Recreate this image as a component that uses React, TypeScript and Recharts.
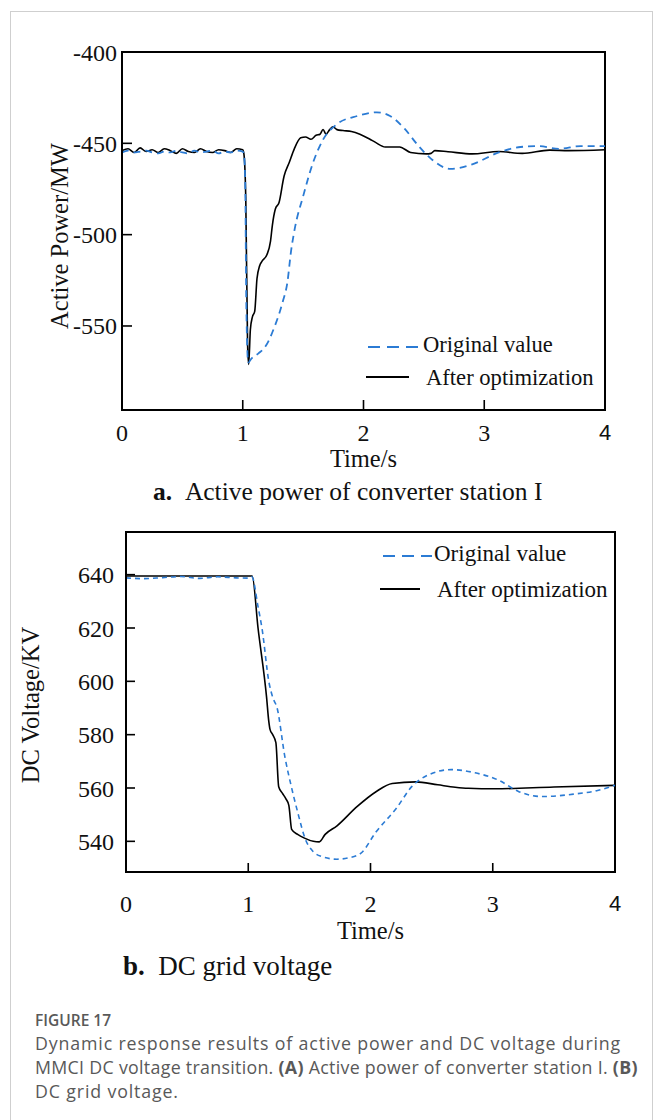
import React from 'react';
import { LineChart, Line, XAxis, YAxis, ReferenceArea, Legend, Label, Text } from 'recharts';

// ---------- Data: (a) Active power of converter station I ----------
const powerTimeOriginal = [0, 0.05, 0.1, 0.15, 0.2, 0.25, 0.3, 0.35, 0.4, 0.45, 0.5, 0.55, 0.6, 0.65, 0.7, 0.75, 0.8, 0.85, 0.9, 0.95, 1.0,
  1.01, 1.02, 1.03, 1.045, 1.07, 1.13, 1.19, 1.26, 1.33, 1.37, 1.40, 1.43, 1.50, 1.58, 1.665, 1.78, 1.95, 2.11, 2.22, 2.34, 2.45, 2.56, 2.72, 2.9, 3.12, 3.3, 3.45, 3.62, 3.8, 4.0];
const powerOriginal = [-455, -454, -455, -454.5, -454, -455, -455.5, -454.5, -455, -454, -455, -455.5, -454, -455, -454.5, -454, -455.5, -454.5, -455, -454, -454.5,
  -456, -470, -540, -570, -568, -565, -561, -551, -537, -526, -509, -497, -479, -461, -448, -439.5, -435, -433, -435, -442, -451, -458.5, -464, -461.5, -455, -452, -451.5, -453, -451.5, -451.5];

const powerTimeOptimized = [0, 0.05, 0.1, 0.15, 0.2, 0.25, 0.3, 0.35, 0.4, 0.45, 0.5, 0.55, 0.6, 0.65, 0.7, 0.75, 0.8, 0.85, 0.9, 0.95, 1.0,
  1.01, 1.025, 1.04, 1.049, 1.063, 1.08, 1.099, 1.118, 1.14, 1.16, 1.2, 1.23, 1.245, 1.27, 1.3, 1.342, 1.385, 1.427, 1.48, 1.52,
  1.565, 1.607, 1.64, 1.665, 1.69, 1.72, 1.748, 1.78, 1.83, 1.9, 1.97, 2.05, 2.1, 2.18, 2.3, 2.39, 2.52, 2.56, 2.59, 2.7, 2.9, 3.12, 3.315, 3.54, 3.7, 4.0];
const powerOptimized = [-454, -453, -455, -452.5, -454.5, -453.5, -455, -453, -454, -455.5, -453, -454.5, -455, -453, -454.5, -455, -453.5, -454, -455, -453, -453.5,
  -456, -480, -560, -571, -552, -545, -542, -524, -517, -514.5, -511, -503.5, -495, -486, -482.5, -468, -460.5, -453, -447, -446.5,
  -447.8, -445.6, -445, -442.4, -445, -442.5, -441, -442.5, -443, -443.5, -445, -447.6, -449.5, -452, -452, -455, -455.8, -455.5, -454, -454.6, -455.8, -454.5, -455.5, -453.7, -454, -453.5];

// ---------- Data: (b) DC grid voltage ----------
const voltageTimeOriginal = [0, 0.15, 0.3, 0.45, 0.6, 0.75, 0.9, 1.0, 1.03, 1.08, 1.112, 1.17, 1.2, 1.236, 1.3, 1.35, 1.404, 1.468,
  1.532, 1.6, 1.726, 1.82, 1.92, 2.048, 2.21, 2.339, 2.468, 2.661, 2.855, 3.049, 3.21, 3.403, 3.661, 3.85, 4.0];
const voltageOriginal = [638.8, 638.5, 638.9, 639.3, 638.6, 639.2, 638.8, 638.7, 639.2, 628, 620, 599.5, 594, 590, 571.6, 561, 551, 540.7,
  536.1, 534.3, 533.3, 533.8, 535.5, 543.7, 552.3, 560.6, 564.8, 566.9, 565.7, 562.9, 558.7, 556.8, 557.7, 559, 561];

const voltageTimeOptimized = [0, 0.5, 1.0, 1.032, 1.08, 1.15, 1.168, 1.178, 1.2, 1.226, 1.249, 1.28, 1.307, 1.332, 1.355,
  1.404, 1.46, 1.532, 1.581, 1.629, 1.726, 1.887, 2.048, 2.177, 2.371, 2.55, 2.693, 2.8, 3.016, 3.5, 4.0];
const voltageOptimized = [639.5, 639.5, 639.5, 639.5, 620, 594, 585, 582, 580, 577, 560.5, 558, 556, 553.5, 544.5,
  542.6, 541.2, 540, 539.8, 542.6, 545.8, 552.9, 558.7, 561.7, 562.3, 561.2, 560.3, 559.9, 559.7, 560.4, 561];

// ---------- Axes ----------
const timeTicks = [0, 1, 2, 3, 4];
const timeDomain = [0, 4];
const powerTicks = [-550, -500, -450, -400];
const powerDomain = [-596, -400];
const voltageTicks = [540, 560, 580, 600, 620, 640];
const voltageDomain = [528.5, 656];

const seriesNames = ['Original value', 'After optimization'];

const zip = (ts: number[], vs: number[]) => ts.map((t, i) => ({ t, v: vs[i] }));

const SERIF = "'Liberation Serif', 'Times New Roman', Times, serif";
const SANS = "'Open Sans', 'Noto Sans', sans-serif";
const BLUE = '#2b7bd4';
const INK = '#111';

const tickStyle = { fontFamily: SERIF, fontSize: 24, fill: INK };
const titleStyle = { fontFamily: SERIF, fontSize: 24.5, fill: INK };

// x tick: the last label ("4") is set in a sans face in the reference
const TimeTick = (props: any) => {
  const { x, y, payload, textAnchor, verticalAnchor } = props;
  const last = payload && payload.value === timeTicks[timeTicks.length - 1];
  const style = last ? { fontFamily: "'Liberation Sans', Arial, sans-serif", fontSize: 22, fill: INK } : tickStyle;
  return (
    <Text x={x} y={y} textAnchor={textAnchor} verticalAnchor={verticalAnchor} style={style}>
      {String(payload.value)}
    </Text>
  );
};

const yTitle = (text: string, dx: number, dy: number) => (props: any) => {
  const vb = props.viewBox || { x: 0, y: 0, width: 0, height: 0 };
  const x = vb.x + dx;
  const y = vb.y + vb.height / 2 + dy;
  return (
    <text x={x} y={y} transform={`rotate(-90, ${x}, ${y})`} textAnchor="middle" dominantBaseline="central" style={titleStyle}>
      {text}
    </text>
  );
};

type LegendGeom = { dash: [number, number, number]; solid: [number, number, number]; dashText: number; solidText: number; size: number };

const makeLegend = (g: LegendGeom) => (props: any) => {
  const payload = props.payload || [];
  const find = (name: string) => payload.find((p: any) => p.value === name);
  const orig = find(seriesNames[0]);
  const opt = find(seriesNames[1]);
  const ts = { fontFamily: SERIF, fontSize: g.size, fill: INK };
  return (
    <svg width={280} height={70} style={{ overflow: 'visible' }}>
      <line x1={g.dash[0]} x2={g.dash[1]} y1={g.dash[2]} y2={g.dash[2]} stroke={orig ? orig.color : BLUE} strokeWidth={2} strokeDasharray="12 7" />
      <text x={g.dashText} y={g.dash[2] - 3} dominantBaseline="central" style={ts}>{seriesNames[0]}</text>
      <line x1={g.solid[0]} x2={g.solid[1]} y1={g.solid[2]} y2={g.solid[2]} stroke={opt ? opt.color : '#000'} strokeWidth={2} />
      <text x={g.solidText} y={g.solid[2]} dominantBaseline="central" style={ts}>{seriesNames[1]}</text>
    </svg>
  );
};

const legendTop = makeLegend({ dash: [8, 58, 17], dashText: 63, solid: [6, 49, 47], solidText: 66, size: 22.6 });
const legendBottom = makeLegend({ dash: [8, 57, 20], dashText: 59, solid: [5, 45, 53], solidText: 62, size: 23 });

function PowerChart() {
  const orig = zip(powerTimeOriginal, powerOriginal);
  const opt = zip(powerTimeOptimized, powerOptimized);
  return (
    <LineChart width={654} height={475} margin={{ top: 52, right: 49, bottom: 4, left: 2 }}>
      <ReferenceArea x1={timeDomain[0]} x2={timeDomain[1]} y1={powerDomain[0]} y2={powerDomain[1]} fill="none" stroke="#000" strokeWidth={2} ifOverflow="visible" />
      <XAxis type="number" dataKey="t" domain={timeDomain} ticks={timeTicks} allowDataOverflow height={61}
        tickSize={-10} tickMargin={24} tick={<TimeTick />} tickLine={{ stroke: '#000', strokeWidth: 1.6 }} axisLine={{ stroke: '#000', strokeWidth: 2 }} interval={0}>
        <Label value="Time/s" position="insideBottom" offset={4} style={titleStyle} />
      </XAxis>
      <YAxis type="number" domain={powerDomain} ticks={powerTicks} allowDataOverflow width={120}
        tickSize={-10} tickMargin={15} tick={tickStyle} tickLine={{ stroke: '#000', strokeWidth: 1.6 }} axisLine={{ stroke: '#000', strokeWidth: 2 }} interval={0}>
        <Label content={yTitle('Active Power/MW', 57, 5)} />
      </YAxis>
      <Legend layout="vertical" align="center" verticalAlign="middle" content={legendTop}
        wrapperStyle={{ position: 'absolute', left: 360, top: 330, width: 280, height: 70 }} />
      <Line data={opt} dataKey="v" name={seriesNames[1]} type="monotone" stroke="#000" strokeWidth={1.6} dot={false} isAnimationActive={false} />
      <Line data={orig} dataKey="v" name={seriesNames[0]} type="monotone" stroke={BLUE} strokeWidth={1.8} strokeDasharray="7 5" dot={false} isAnimationActive={false} />
    </LineChart>
  );
}

function VoltageChart() {
  const orig = zip(voltageTimeOriginal, voltageOriginal);
  const opt = zip(voltageTimeOptimized, voltageOptimized);
  return (
    <LineChart width={654} height={470} margin={{ top: 50, right: 39, bottom: 9, left: 0 }}>
      <ReferenceArea x1={timeDomain[0]} x2={timeDomain[1]} y1={voltageDomain[0]} y2={voltageDomain[1]} fill="none" stroke="#000" strokeWidth={2} ifOverflow="visible" />
      <XAxis type="number" dataKey="t" domain={timeDomain} ticks={timeTicks} allowDataOverflow height={71}
        tickSize={-9} tickMargin={32} tick={<TimeTick />} tickLine={{ stroke: '#000', strokeWidth: 1.6 }} axisLine={{ stroke: '#000', strokeWidth: 2 }} interval={0}>
        <Label value="Time/s" position="insideBottom" offset={4} style={titleStyle} />
      </XAxis>
      <YAxis type="number" domain={voltageDomain} ticks={voltageTicks} allowDataOverflow width={126}
        tickSize={-9} tickMargin={21} tick={tickStyle} tickLine={{ stroke: '#000', strokeWidth: 1.6 }} axisLine={{ stroke: '#000', strokeWidth: 2 }} interval={0}>
        <Label content={yTitle('DC Voltage/KV', 30, 3)} />
      </YAxis>
      <Legend layout="vertical" align="center" verticalAlign="middle" content={legendBottom}
        wrapperStyle={{ position: 'absolute', left: 375, top: 54, width: 280, height: 70 }} />
      <Line data={opt} dataKey="v" name={seriesNames[1]} type="monotone" stroke="#000" strokeWidth={1.6} dot={false} isAnimationActive={false} />
      <Line data={orig} dataKey="v" name={seriesNames[0]} type="monotone" stroke={BLUE} strokeWidth={1.6} strokeDasharray="5 4" dot={false} isAnimationActive={false} />
    </LineChart>
  );
}

const captionLine = { height: 24, lineHeight: '24px', fontSize: 17.8 };

export default function App() {
  return (
    <div style={{ position: 'absolute', left: 0, top: 0, width: 654, height: 1120, background: '#fff', overflow: 'hidden' }}>
      <div style={{ position: 'absolute', left: 10, top: 11, width: 641, height: 1130, border: '1px solid #cfcfcf' }} />
      <div style={{ position: 'absolute', left: 0, top: 0 }}>
        <PowerChart />
      </div>
      <div style={{ position: 'absolute', left: 153, top: 478, fontFamily: SERIF, fontSize: 25.5, color: INK, lineHeight: '28px', whiteSpace: 'nowrap' }}>
        <b>a.</b>&nbsp;&nbsp;Active power of converter station I
      </div>
      <div style={{ position: 'absolute', left: 0, top: 482 }}>
        <VoltageChart />
      </div>
      <div style={{ position: 'absolute', left: 123, top: 951, fontFamily: SERIF, fontSize: 27, color: INK, lineHeight: '30px', whiteSpace: 'nowrap' }}>
        <b>b.</b>&nbsp;&nbsp;DC grid voltage
      </div>
      <div style={{ position: 'absolute', left: 35, top: 1010, fontFamily: SANS, color: '#595959', whiteSpace: 'nowrap' }}>
        <div style={{ fontSize: 15.5, fontWeight: 600, height: 20, lineHeight: '20px' }}>FIGURE 17</div>
        <div style={{ marginTop: 1 }}>
          <div style={{ ...captionLine, letterSpacing: 0.85 }}>Dynamic response results of active power and DC voltage during</div>
          <div style={{ ...captionLine, letterSpacing: 0.3 }}>MMCI DC voltage transition. <b>(A)</b> Active power of converter station I. <b>(B)</b></div>
          <div style={{ ...captionLine, letterSpacing: 0.85 }}>DC grid voltage.</div>
        </div>
      </div>
    </div>
  );
}
